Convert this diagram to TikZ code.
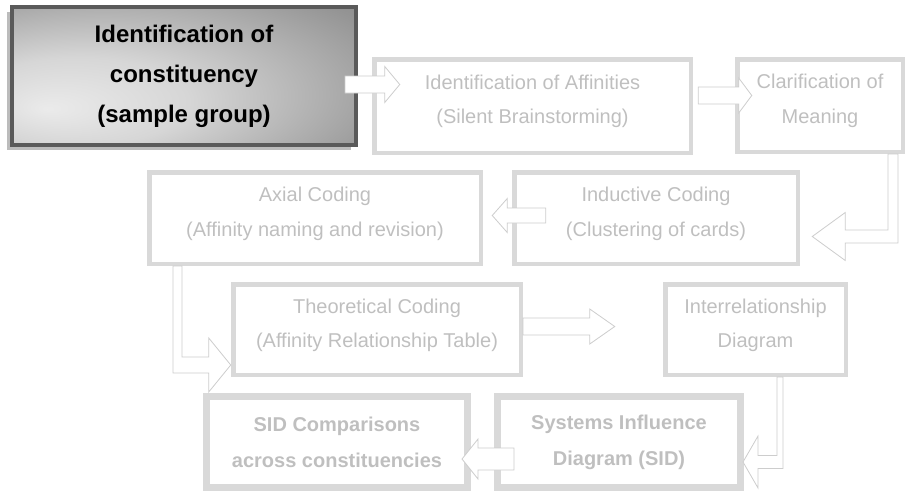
\documentclass[tikz,border=0pt]{standalone}
\usepackage{fontspec}
\setmainfont{Liberation Sans}
\usetikzlibrary{calc,shadows}

\definecolor{boxline}{RGB}{217,217,217}
\definecolor{boxtext}{RGB}{191,191,191}
\definecolor{arrowline}{RGB}{205,205,205}
\definecolor{darkline}{RGB}{90,90,90}
\definecolor{shadowgray}{RGB}{188,188,188}

\pgfdeclareradialshading{boxglow}{\pgfpoint{-20bp}{-12bp}}{%
  color(0bp)=(black!8); color(16bp)=(black!16); color(42bp)=(black!42); color(70bp)=(black!62)}

\tikzset{
  plainbox/.style={draw=boxline, line width=4.5pt, text=boxtext, align=center,
    inner sep=0pt, font=\fontsize{20}{34.5}\selectfont},
  stage/.style={plainbox, execute at end node={\rule[-13pt]{0pt}{0pt}}},
  result/.style={plainbox, line width=6pt, font=\bfseries\fontsize{20}{36}\selectfont},
  firststage/.style={draw=darkline, line width=4pt, shading=boxglow,
    align=center, inner sep=0pt, font=\bfseries\fontsize{24}{40}\selectfont,
    drop shadow={shadow xshift=-5pt, shadow yshift=-5pt, fill=shadowgray, opacity=1}},
  innerframe/.style={draw=boxline, line width=1.5pt},
  blockarrow/.style={draw=arrowline, line width=0.8pt, fill=white, line join=miter}
}

% straight block arrow: start, tip, half shaft, half head, head length
\newcommand{\harrow}[5]{%
  \draw[blockarrow] let \p1=(#1), \p2=(#2) in
    ({\x1},{\y2+#3}) -- ({\x2-(#5)},{\y2+#3}) -- ({\x2-(#5)},{\y2+#4}) -- (\x2,\y2)
    -- ({\x2-(#5)},{\y2-#4}) -- ({\x2-(#5)},{\y2-#3}) -- ({\x1},{\y2-#3}) -- cycle;}

% bent block arrow (down, then sideways): start, tip, half down shaft, half side shaft, half head, head length
\newcommand{\bentarrow}[6]{%
  \draw[blockarrow] let \p1=(#1), \p2=(#2) in
    ({\x1+(#3)},\y1) -- ({\x1+(#3)},{\y2+#4}) -- ({\x2-(#6)},{\y2+#4}) -- ({\x2-(#6)},{\y2+#5})
    -- (\x2,\y2) -- ({\x2-(#6)},{\y2-#5}) -- ({\x2-(#6)},{\y2-#4}) -- ({\x1-(#3)},{\y2-#4})
    -- ({\x1-(#3)},\y1) -- cycle;}

\begin{document}
\begin{tikzpicture}[x=1pt, y=-1pt]
  \useasboundingbox (0,0) rectangle (907,493);

  % First row
  \node[firststage, minimum width=344, minimum height=138] (idcon) at (184,76)
    {Identification of\\constituency\\(sample group)};
  \node[stage, minimum width=316.5, minimum height=93.5] (idaff) at (532.5,106)
    {Identification of Affinities\\(Silent Brainstorming)};
  \node[stage, minimum width=165.5, minimum height=92.5] (clarif) at (820,105.5)
    {Clarification of\\Meaning};

  % Second row
  \node[stage, minimum width=331.5, minimum height=91.5] (axial) at (315,218)
    {Axial Coding\\(Affinity naming and revision)};
  \node[stage, minimum width=283.5, minimum height=91.5] (induct) at (656,218)
    {Inductive Coding\\(Clustering of cards)};

  % Third row
  \node[stage, minimum width=287.5, minimum height=90.5] (theor) at (377,329.5)
    {Theoretical Coding\\(Affinity Relationship Table)};
  \node[stage, minimum width=180.5, minimum height=90.5] (interrel) at (755.5,329.5)
    {Interrelationship\\Diagram};

  % Last row
  \node[result, minimum width=262, minimum height=92] (sidc) at (337,442)
    {SID Comparisons\\across constituencies};
  \node[result, minimum width=244, minimum height=92] (sysinf) at (619,442)
    {Systems Influence\\Diagram (SID)};
  \draw[innerframe] ($(sidc.north west)+(6.5,6.5)$) rectangle ($(sidc.south east)+(-6.5,-6.5)$);
  \draw[innerframe] ($(sysinf.north west)+(6.5,6.5)$) rectangle ($(sysinf.south east)+(-6.5,-6.5)$);

  % Arrows
  \harrow{$(idcon.east)+(-13,0)$}{$(idaff.west)+(27.75,-21.5)$}{8.5pt}{18pt}{15pt}
  \harrow{$(idaff.east)+(5.25,0)$}{$(clarif.west)+(16.75,-10)$}{8.5pt}{17.5pt}{13pt}
  \bentarrow{$(clarif.south)+(73,0)$}{$(induct.east)+(12.25,18.5)$}{-5pt}{6.5pt}{24pt}{-33pt}
  \harrow{$(induct.west)+(33.75,0)$}{$(axial.east)+(9.25,-2.5)$}{7.5pt}{17pt}{-15pt}
  \bentarrow{$(axial.south)+(-137.5,0)$}{$(theor.west)+(-0.25,35.5)$}{4.5pt}{8pt}{27pt}{22pt}
  \harrow{theor.east}{$(interrel.west)+(-48.25,-3)$}{8.5pt}{17.5pt}{25pt}
  \bentarrow{$(interrel.south)+(24.5,0)$}{$(sysinf.east)+(-1,20)$}{-3pt}{6.5pt}{26pt}{-15pt}
  \harrow{$(sysinf.west)+(20,0)$}{$(sidc.east)+(-9,17)$}{11pt}{20pt}{-16pt}
\end{tikzpicture}
\end{document}
